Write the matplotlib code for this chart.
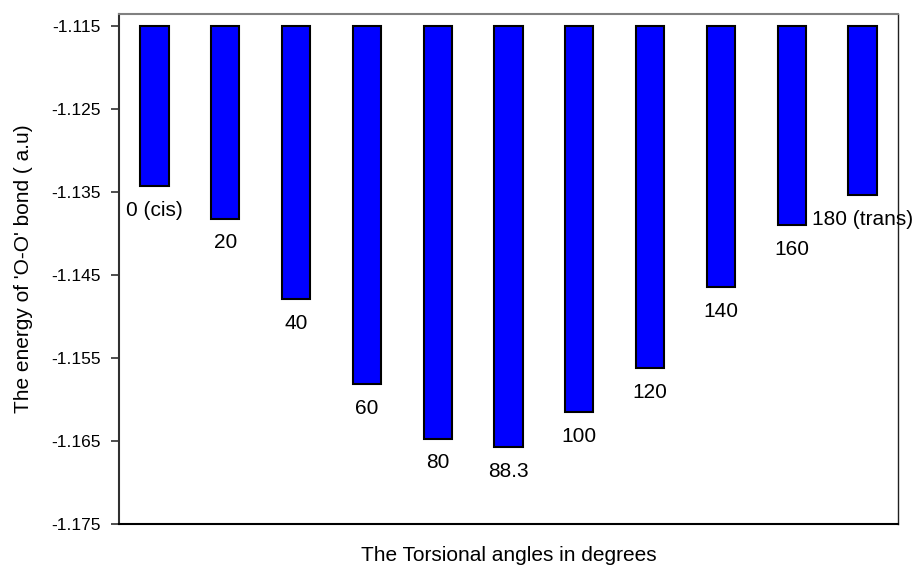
import matplotlib
matplotlib.use("Agg")
import matplotlib.pyplot as plt
import numpy as np

plt.rcParams['font.family'] = ['Liberation Sans', 'DejaVu Sans']

angle_labels = ["0 (cis)", "20", "40", "60", "80", "88.3", "100", "120", "140", "160", "180 (trans)"]
energies = [-1.1343, -1.1382, -1.1479, -1.1581, -1.1647, -1.1657, -1.1615, -1.1562, -1.1465, -1.1390, -1.1354]
base_value = -1.115
y_ticks = [-1.175, -1.165, -1.155, -1.145, -1.135, -1.125, -1.115]

fig = plt.figure(figsize=(9.14, 5.67), dpi=100)
ax = fig.add_axes([119/914, 1-524/567, (898-119)/914, (524-14)/567])

x = np.arange(len(energies))
heights = np.array(energies) - base_value
ax.bar(x, heights, bottom=base_value, width=0.4, color='#0000FF',
       edgecolor='black', linewidth=1.5, zorder=3)

for xi, e, lab in zip(x, energies, angle_labels):
    ax.annotate(lab, xy=(xi, e), xytext=(0, -17.5), textcoords='offset points',
                ha='center', va='center', fontsize=15, color='black')

ax.set_xlim(-0.5, len(energies) - 0.5)
ax.set_ylim(-1.175, base_value + 12/83*0.01)
ax.set_xticks([])
ax.set_yticks(y_ticks)
ax.set_yticklabels([f"{v:.3f}" for v in y_ticks], fontsize=12.5)
ax.tick_params(axis='y', direction='out', length=6, width=1.2, pad=7, color='#303030')

ax.spines['top'].set_color('#808080')
ax.spines['top'].set_linewidth(1.5)
ax.spines['right'].set_color('#202020')
ax.spines['right'].set_linewidth(1.0)
ax.spines['left'].set_color('#303030')
ax.spines['left'].set_linewidth(1.5)
ax.spines['bottom'].set_color('black')
ax.spines['bottom'].set_linewidth(1.5)

ax.set_xlabel("The Torsional angles in degrees", fontsize=15, labelpad=16)
ax.set_ylabel("The energy of 'O-O' bond ( a.u)", fontsize=15, labelpad=13)

fig.savefig("out.png", dpi=100)
